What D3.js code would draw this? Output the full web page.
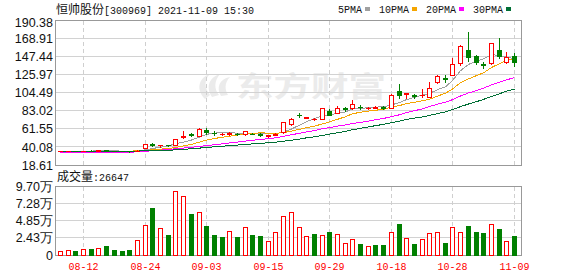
<!DOCTYPE html>
<html>
<head>
<meta charset="utf-8">
<script src="https://cdn.jsdelivr.net/npm/d3@7"></script>
<style>
  body { margin: 0; background: #fff; }
  svg { display: block; }
  .ylab { font: 12.5px "Liberation Sans", Arial, sans-serif; fill: #111; }
  .mono { font-family: "Liberation Mono", monospace; font-size: 10px; fill: #111; }
  .cjk { font-family: "Noto Sans CJK SC", sans-serif; font-size: 12px; }
  .xlab { font-family: "Liberation Mono", monospace; font-size: 10px; fill: #f00; }
</style>
</head>
<body>
<script>
// trading days shown (2021-08-09 .. 2021-11-09)
const dates = [
  '08-09','08-10','08-11','08-12','08-13','08-16','08-17','08-18','08-19','08-20',
  '08-23','08-24','08-25','08-26','08-27','08-30','08-31','09-01','09-02','09-03',
  '09-06','09-07','09-08','09-09','09-10','09-13','09-14','09-15','09-16','09-17',
  '09-22','09-23','09-24','09-27','09-28','09-29','09-30','10-08','10-11','10-12',
  '10-13','10-14','10-15','10-18','10-19','10-20','10-21','10-22','10-25','10-26',
  '10-27','10-28','10-29','11-01','11-02','11-03','11-04','11-05','11-08','11-09'
];

const open = [
  35.0,35.1,35.4,35.1,35.4,35.1,36.0,35.3,35.1,35.0,
  34.9,38.6,43.8,42.4,42.2,42.3,51.3,55.2,53.0,60.5,
  57.2,55.6,55.8,56.0,55.4,56.0,55.8,52.6,54.5,57.6,
  67.0,78.5,74.8,72.8,73.2,82.4,80.8,86.0,86.0,88.0,
  86.5,86.8,87.6,86.7,106.9,103.5,101.4,101.3,99.8,116.9,
  121.9,125.6,140.2,155.3,148.2,138.2,139.5,155.3,140.7,148.5
];
const high = [
  35.5,35.6,35.6,35.5,36.0,36.2,36.3,35.5,35.3,35.2,
  36.0,43.6,45.2,42.9,42.6,50.0,59.0,56.5,62.9,62.2,
  58.5,56.8,57.5,56.4,59.5,56.3,56.8,54.8,56.5,70.0,
  74.0,80.0,76.0,74.6,86.5,85.5,89.0,87.5,95.9,89.5,
  88.0,88.2,89.0,103.0,114.9,104.6,103.0,108.9,117.6,125.2,
  125.5,146.0,161.0,176.3,149.0,141.5,164.0,169.9,152.5,152.1
];
const low = [
  34.8,34.9,34.9,34.9,34.8,35.0,35.0,34.8,34.7,34.6,
  34.7,38.3,41.0,40.3,41.2,41.8,51.0,52.7,52.5,55.4,
  54.5,54.8,54.8,54.0,54.8,55.0,53.5,52.0,54.0,57.0,
  66.5,75.5,74.0,71.8,72.8,77.5,80.5,83.0,85.5,85.5,
  85.5,86.2,85.0,86.2,97.9,98.5,98.5,99.2,99.4,116.5,
  117.2,125.2,137.5,142.6,138.3,133.6,138.5,145.4,140.2,136.6
];
const close = [
  35.3,35.4,35.1,35.3,35.0,36.0,35.2,35.0,34.9,34.8,
  35.8,43.2,42.2,42.8,41.8,49.5,52.8,54.6,61.0,57.8,
  56.3,56.0,56.3,55.3,59.0,55.6,54.8,54.2,55.5,69.3,
  73.3,77.5,75.5,73.4,86.0,78.4,86.0,85.0,90.7,87.2,
  86.9,87.4,86.8,101.8,101.4,104.2,100.6,101.9,109.8,124.4,
  121.0,138.3,160.1,147.3,141.4,137.2,163.3,148.2,147.3,140.7
];

// volume in 万手, and colour of each volume bar (1 = red, 0 = green)
const volume = [
  0.57,0.66,0.57,0.80,0.85,0.95,1.28,0.66,0.57,0.71,
  2.13,4.21,6.67,3.79,2.84,9.04,8.33,5.82,6.06,4.12,
  2.84,2.56,3.41,2.56,3.93,2.84,2.70,1.99,3.26,5.49,
  6.06,3.93,2.65,2.98,2.79,3.26,2.93,1.66,2.22,1.56,
  1.23,1.42,1.42,3.26,4.40,2.37,1.56,2.22,3.12,3.26,
  1.70,3.93,3.26,4.12,3.26,3.12,4.40,3.69,1.99,2.6647
];
const volUp = [
  1,1,0,1,0,1,0,0,0,0,
  1,1,0,1,0,1,1,0,1,0,
  0,0,1,0,1,0,0,1,1,1,
  1,1,1,0,1,0,1,1,1,0,
  1,0,0,1,0,1,0,1,1,1,
  0,1,1,0,0,0,1,0,1,0
];

const ma5 = [
  35.2,35.2,35.2,35.2,35.2,35.4,35.3,35.3,35.2,35.2,
  35.1,36.7,38.2,39.8,41.2,43.9,45.8,48.3,51.9,55.1,
  56.5,57.1,57.5,56.3,56.6,56.4,56.2,55.8,55.8,57.9,
  61.4,66.0,70.2,73.8,77.1,78.2,79.9,81.8,85.2,85.5,
  87.2,87.4,87.8,90.0,92.9,96.3,99.0,102.0,103.6,108.2,
  111.5,119.1,130.7,138.2,141.6,144.9,149.9,148.5,146.8,145.0
];
const ma10 = [
  35.2,35.2,35.2,35.2,35.2,35.2,35.2,35.2,35.2,35.2,
  35.3,36.0,36.7,37.5,38.2,39.5,41.3,43.2,45.9,48.2,
  50.2,51.5,52.9,54.1,55.9,56.5,56.7,56.6,56.1,57.2,
  58.9,61.1,63.0,64.8,67.5,69.8,72.9,76.0,79.5,81.3,
  82.7,83.7,84.8,87.6,89.2,91.7,93.2,94.9,96.8,100.5,
  103.9,109.0,116.4,120.9,124.9,128.2,134.5,139.1,142.9,144.5
];
const ma20 = [
  33.5,33.6,33.6,33.7,33.7,33.8,33.8,33.8,33.9,33.9,
  34.2,34.9,35.6,36.3,37.0,37.9,38.8,39.7,40.6,41.7,
  42.7,43.8,44.8,45.8,47.0,48.0,49.0,49.9,51.0,52.7,
  54.6,56.3,57.9,59.5,61.7,63.1,64.8,66.3,67.8,69.3,
  70.8,72.4,73.9,76.2,78.3,80.8,83.1,85.4,88.2,90.9,
  93.3,96.3,100.6,104.3,107.0,110.0,113.8,117.0,119.8,122.5
];
const ma30 = [
  35.1,35.1,35.1,35.1,35.1,35.1,35.1,35.1,35.1,35.1,
  35.2,35.4,35.7,35.9,36.1,36.6,37.2,37.9,38.7,39.5,
  40.2,40.9,41.6,42.3,43.1,43.7,44.4,45.0,45.7,46.9,
  48.1,49.5,50.9,52.1,53.8,55.3,57.0,58.6,60.5,62.2,
  63.9,65.4,66.9,68.9,70.8,72.7,74.3,75.8,77.5,79.7,
  81.8,84.6,88.0,91.1,93.9,96.6,100.2,103.3,106.4,108.8
];

const priceTicks = [18.61, 40.08, 61.55, 83.02, 104.49, 125.97, 147.44, 168.91, 190.38];
const volTicks = [0, 2.43, 4.85, 7.28, 9.70];
const xTicks = ['08-12','08-24','09-03','09-15','09-29','10-18','10-28','11-09'];

const maSeries = [
  { name: '5PMA',  values: ma5,  color: '#a0a0a0' },
  { name: '10PMA', values: ma10, color: '#f5a500' },
  { name: '20PMA', values: ma20, color: '#ff00ff' },
  { name: '30PMA', values: ma30, color: '#006f35' }
];

const RED = '#ff0000', GREEN = '#008000';
const W = 578, H = 276;
const left = 55.5, right = 521.5;

const svg = d3.select('body').append('svg')
  .attr('width', W).attr('height', H)
  .attr('shape-rendering', 'crispEdges');

const x = d3.scalePoint().domain(d3.range(dates.length)).range([60, 514]);
const y = d3.scaleLinear().domain([priceTicks[0], priceTicks[priceTicks.length - 1]]).range([165, 20.5]);
const yv = d3.scaleLinear().domain([0, 9.70]).range([255, 186.5]);
const cx = i => Math.round(x(i));

// ===== watermark =====
const wm = svg.append('g').attr('fill', '#ebebeb').attr('shape-rendering', 'auto');
wm.append('path')
  .attr('d', 'M205,99 C196,90 198,78 210,74 C204,80 204,88 210,95 Z M212,97 C206,88 208,78 220,74 C214,81 214,89 219,95 Z M221,96 C216,88 219,79 230,77 C224,83 225,90 228,95 Z');
wm.append('text')
  .attr('transform', 'translate(236,97) scale(1.34,1)')
  .attr('font-family', '"Noto Sans CJK SC", sans-serif')
  .attr('font-weight', 'bold')
  .attr('font-size', 28)
  .text('东方财富');

// ===== grids =====
function panel(yScale, ticks, top, bottom) {
  const g = svg.append('g');
  g.selectAll('.h').data(ticks.slice(1, -1)).enter().append('line')
    .attr('x1', left).attr('x2', right)
    .attr('y1', d => Math.floor(yScale(d)) + 0.5).attr('y2', d => Math.floor(yScale(d)) + 0.5)
    .attr('stroke', '#d2d2d2');
  g.selectAll('.v').data(xTicks).enter().append('line')
    .attr('x1', d => cx(dates.indexOf(d)) + 0.5).attr('x2', d => cx(dates.indexOf(d)) + 0.5)
    .attr('y1', top).attr('y2', bottom)
    .attr('stroke', '#cfcfcf').attr('stroke-dasharray', '4,3');
  g.append('rect')
    .attr('x', left).attr('y', top)
    .attr('width', right - left).attr('height', bottom - top)
    .attr('fill', 'none').attr('stroke', '#999');
}
panel(y, priceTicks, 20.5, 165.5);
panel(yv, volTicks, 186.5, 255.5);

// ===== y labels =====
svg.selectAll('.plab').data(priceTicks).enter().append('text')
  .attr('class', 'ylab')
  .attr('x', 53).attr('text-anchor', 'end')
  .attr('y', (d, i) => y(d) + 4.6 + (i === priceTicks.length - 1 ? 2 : 0))
  .text(d => d.toFixed(2));

svg.selectAll('.vlab').data(volTicks).enter().append('text')
  .attr('class', 'ylab')
  .attr('x', 53).attr('text-anchor', 'end')
  .attr('y', d => yv(d) + 4.6)
  .text(d => d === 0 ? '0' : d.toFixed(2) + '万');

// ===== x labels =====
svg.selectAll('.xlab').data(xTicks).enter().append('text')
  .attr('class', 'xlab')
  .attr('x', d => cx(dates.indexOf(d)) + 0.5)
  .attr('y', 270)
  .attr('text-anchor', 'middle')
  .text(d => d);

// ===== moving averages =====
const line = d3.line().x((d, i) => cx(i) + 0.5).y(d => y(d));
svg.append('g').selectAll('path').data(maSeries).enter().append('path')
  .attr('d', d => line(d.values))
  .attr('fill', 'none')
  .attr('stroke', d => d.color)
  .attr('stroke-width', 1);

// ===== candles =====
const bars = d3.range(dates.length).map(i => ({
  i, o: open[i], h: high[i], l: low[i], c: close[i], v: volume[i], vu: volUp[i]
}));

const candle = svg.append('g').selectAll('g').data(bars).enter().append('g');
candle.append('line')
  .attr('x1', d => cx(d.i) + 0.5).attr('x2', d => cx(d.i) + 0.5)
  .attr('y1', d => Math.round(y(d.h))).attr('y2', d => Math.round(y(d.l)) + 1)
  .attr('stroke', d => d.c >= d.o ? RED : GREEN);
candle.append('rect')
  .each(function (d) {
    const up = d.c >= d.o;
    const t = Math.round(y(Math.max(d.o, d.c)));
    const b = Math.round(y(Math.min(d.o, d.c)));
    const r = d3.select(this);
    if (up && b - t >= 2) {
      r.attr('x', cx(d.i) - 1.5).attr('y', t + 0.5)
        .attr('width', 4).attr('height', b - t)
        .attr('fill', '#fff').attr('stroke', RED);
    } else {
      r.attr('x', cx(d.i) - 2).attr('y', t)
        .attr('width', 5).attr('height', Math.max(1, b - t + 1))
        .attr('fill', up ? RED : GREEN);
    }
  });

// ===== volume =====
svg.append('g').selectAll('rect').data(bars).enter().append('rect')
  .each(function (d) {
    const t = Math.round(yv(d.v));
    const r = d3.select(this);
    if (d.vu) {
      r.attr('x', cx(d.i) - 1.5).attr('y', t + 0.5)
        .attr('width', 4).attr('height', 255 - t)
        .attr('fill', '#fff').attr('stroke', RED);
    } else {
      r.attr('x', cx(d.i) - 2).attr('y', t)
        .attr('width', 5).attr('height', 256 - t)
        .attr('fill', GREEN);
    }
  });

// ===== title, legend =====
const title = svg.append('text').attr('x', 56).attr('y', 14);
title.append('tspan').attr('class', 'cjk').attr('fill', '#111').text('恒帅股份');
title.append('tspan').attr('class', 'mono').text('[300969] 2021-11-09 15:30');

const legend = svg.append('g');
let lx = 338;
maSeries.forEach(s => {
  legend.append('text').attr('class', 'mono').attr('x', lx).attr('y', 13).text(s.name);
  lx += s.name.length * 6 + 3;
  legend.append('rect').attr('x', lx).attr('y', 7).attr('width', 5).attr('height', 4).attr('fill', s.color);
  lx += 5 + 9;
});

const vt = svg.append('text').attr('x', 57).attr('y', 181);
vt.append('tspan').attr('class', 'cjk').attr('fill', '#111').text('成交量');
vt.append('tspan').attr('class', 'mono').text(':' + Math.round(volume[volume.length - 1] * 10000));
</script>
</body>
</html>
